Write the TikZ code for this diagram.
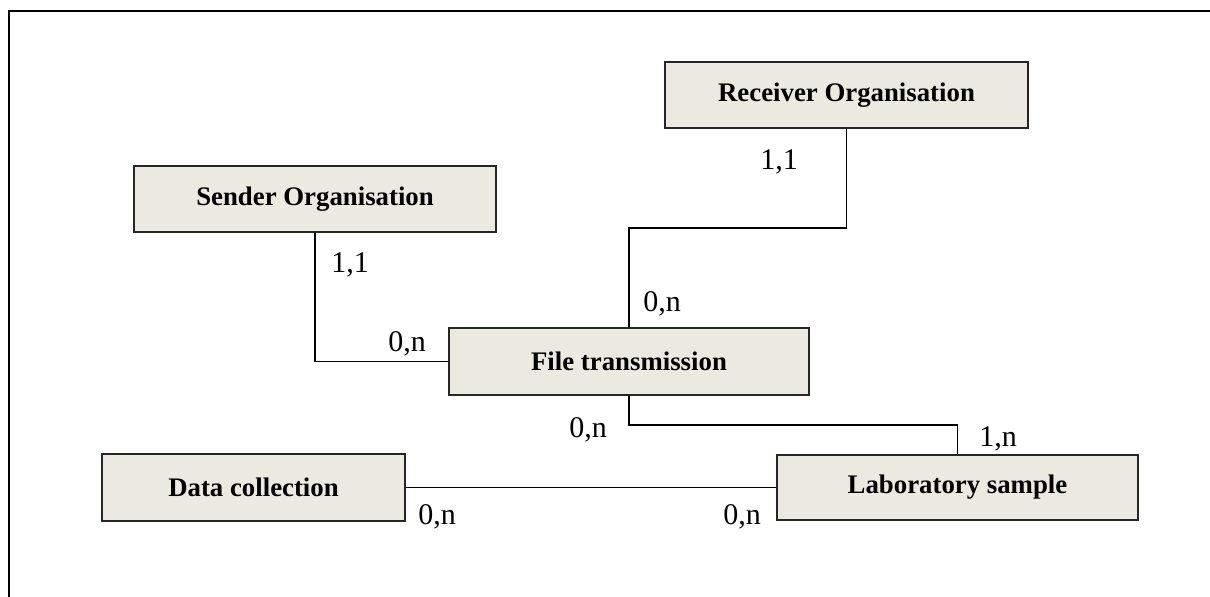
\documentclass[tikz,border=0pt]{standalone}
\usepackage{fontspec}
\setmainfont{Liberation Serif}
\usetikzlibrary{positioning,calc}
\definecolor{entityfill}{RGB}{236,233,224}
\tikzset {
    style entity/.style={
        top color=entityfill,
        bottom color=entityfill,
        draw=black!85,
        line width=1pt,
        rectangle, % Set the shape as a rectangle
        inner sep=0pt,
        align=center,
        font=\fontsize{13.4}{16}\selectfont\bfseries,
    },
    style card/.style={
        inner sep=0pt,
        font=\fontsize{15}{18}\selectfont,
    },
    style link/.style={
        draw=black,
        line width=0.7pt,
    },
}

\begin{document}
\begin{tikzpicture}[x=0.5pt, y=-0.5pt]
        \useasboundingbox (0,0) rectangle (1210,596);
        \clip (0,0) rectangle (1210,596);
        \draw[line width=1pt] (9,11) rectangle (1240,640);
        % entities
        \node[style entity, minimum width=181.5pt, minimum height=33pt] (receiver) at (846.5,95) {Receiver Organisation};
        \node[style entity, minimum width=181pt, minimum height=33pt] (sender) at (315,199) {Sender Organisation};
        \node[style entity, minimum width=180pt, minimum height=33.5pt] (file) at (629,361.5) {File transmission};
        \node[style entity, minimum width=151.5pt, minimum height=33.5pt] (data) at (253.5,487.5) {Data collection};
        \node[style entity, minimum width=180.5pt, minimum height=32.5pt] (lab) at (957.5,487.5) {Laboratory sample};
        % links
        \draw[style link] (sender.south) |- (file.west);
        \draw[style link] (receiver.south) |- ($(receiver.south)!.5!(file.north)$) -| (file.north);
        \draw[style link] (file.south) |- ($(file.south)!.5!(lab.north)$) -| (lab.north);
        \draw[style link] (data.east) -- (lab.west);
        % cardinalities
        \node[style card] (sendcard) at (350,265) {1,1};
        \node[style card] (filecardw) at (407,344) {0,n};
        \node[style card] (recvcard) at (779,162) {1,1};
        \node[style card] (filecardn) at (662,304) {0,n};
        \node[style card] (filecards) at (588,430) {0,n};
        \node[style card] (labcardn) at (998,439) {1,n};
        \node[style card] (datacard) at (437,517) {0,n};
        \node[style card] (labcardw) at (742,517) {0,n};
    \end{tikzpicture}
\end{document}
